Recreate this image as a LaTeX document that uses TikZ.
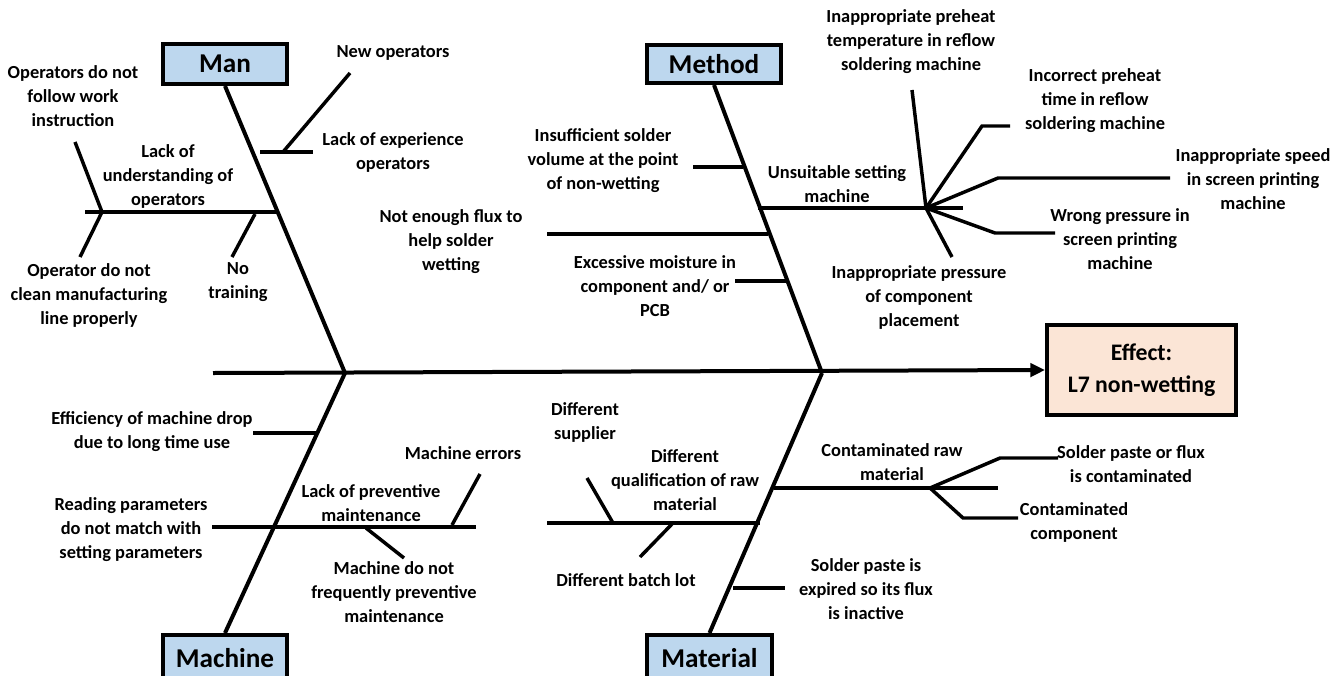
\documentclass[tikz,border=0pt]{standalone}
\usepackage{fontspec}
\setmainfont{Carlito}
\usetikzlibrary{arrows.meta}
\definecolor{catblue}{RGB}{189,215,238}
\definecolor{effpeach}{RGB}{251,229,214}
\tikzset{
  bone/.style={line width=3pt},
  twig/.style={line width=2.6pt},
  cause/.style={font=\bfseries\fontsize{13.8}{18}\selectfont, align=center, inner sep=0pt},
  catbox/.style={draw, line width=3pt, fill=catblue, inner sep=0pt,
    font=\bfseries\fontsize{20.4}{22}\selectfont},
  effbox/.style={draw, line width=3pt, fill=effpeach, inner sep=0pt, align=center,
    font=\bfseries\fontsize{17.8}{24}\selectfont},
}
\begin{document}
\begin{tikzpicture}[x=0.75pt, y=-0.75pt]
\useasboundingbox (0,0) rectangle (1344,675);

% ---------- category boxes and effect ----------
\node[catbox, minimum width=93pt, minimum height=30pt] (man) at (225,64) {Man};
\node[catbox, minimum width=100pt, minimum height=28.5pt] (method) at (714,64) {Method};
\node[catbox, minimum width=93pt, minimum height=34.5pt] (machine) at (225,658) {Machine};
\node[catbox, minimum width=93.75pt, minimum height=34.5pt] (material) at (709.5,658) {Material};
\node[effbox, minimum width=141.75pt, minimum height=67.5pt] (effect) at (1141.5,370) {Effect:\\L7 non-wetting};

% ---------- spine ----------
\coordinate (tail) at (213,373);
\coordinate (jup) at (345,373);
\coordinate (jright) at (822,373);
\draw[bone, -{Triangle[length=11pt, width=10pt]}] (tail) -- (effect.west);

% ---------- main bones ----------
\draw[bone] (man.south) -- (jup);
\draw[bone] (method.south) -- (jright);
\draw[bone] (machine.north) -- (jup);
\draw[bone] (material.north) -- (jright);

% ---------- Man ----------
\coordinate (m1a) at (260,152); \coordinate (m1b) at (313,152);
\coordinate (m1k) at (283,152); \coordinate (m1t) at (350,73);
\draw[twig] (m1a) -- (m1b);
\draw[twig] (m1k) -- (m1t);
\coordinate (m2a) at (85,212); \coordinate (m2b) at (278,212);
\coordinate (m2k) at (102,212);
\coordinate (m2u) at (75,142); \coordinate (m2d) at (80,257);
\coordinate (m3a) at (255,214); \coordinate (m3b) at (232,257);
\draw[twig] (m2a) -- (m2b);
\draw[twig] (m2u) -- (m2k) -- (m2d);
\draw[twig] (m3a) -- (m3b);

\node[cause] (newop) at (393,53) {New operators};
\node[cause] (lackexp) at (393,152) {Lack of experience\\operators};
\node[cause] (lackund) at (168,176) {Lack of\\understanding of\\operators};
\node[cause] (follow) at (73,96) {Operators do not\\follow work\\instruction};
\node[cause] (clean) at (89,295) {Operator do not\\clean manufacturing\\line properly};
\node[cause] (notrain) at (238,282) {No\\training};

% ---------- Method ----------
\coordinate (t1a) at (693,167); \coordinate (t1b) at (743,167);
\coordinate (t2a) at (547,234); \coordinate (t2b) at (768,234);
\coordinate (t3a) at (786,281); \coordinate (t3b) at (735,281);
\coordinate (t4a) at (758,208); \coordinate (t4b) at (963,208);
\coordinate (hub) at (926,208);
\draw[twig] (t1a) -- (t1b);
\draw[twig] (t2a) -- (t2b);
\draw[twig] (t3a) -- (t3b);
\draw[twig] (t4a) -- (t4b);
\coordinate (h1) at (912,90);
\coordinate (h2) at (952,257);
\coordinate (h3k) at (982,126); \coordinate (h3) at (1010,126);
\coordinate (h4k) at (998,178); \coordinate (h4) at (1170,178);
\coordinate (h5k) at (995,233); \coordinate (h5) at (1055,233);
\draw[twig] (hub) -- (h1);
\draw[twig] (hub) -- (h2);
\draw[twig] (hub) -- (h3k) -- (h3);
\draw[twig] (hub) -- (h4k) -- (h4);
\draw[twig] (hub) -- (h5k) -- (h5);

\node[cause] (insuff) at (603,161) {Insufficient solder\\volume at the point\\of non-wetting};
\node[cause] (flux) at (451,242) {Not enough flux to\\help solder\\wetting};
\node[cause] (moist) at (655,286) {Excessive moisture in\\component and/ or\\PCB};
\node[cause] (unsuit) at (837,184) {Unsuitable setting\\machine};
\node[cause] (temp) at (911,42) {Inappropriate preheat\\temperature in reflow\\soldering machine};
\node[cause] (time) at (1095,101) {Incorrect preheat\\time in reflow\\soldering machine};
\node[cause] (speed) at (1253,179) {Inappropriate speed\\in screen printing\\machine};
\node[cause] (wrong) at (1120,239) {Wrong pressure in\\screen printing\\machine};
\node[cause] (place) at (919,297) {Inappropriate pressure\\of component\\placement};

% ---------- Machine ----------
\coordinate (c1a) at (253,433); \coordinate (c1b) at (316,433);
\coordinate (c2a) at (212,527); \coordinate (c2b) at (476,527);
\coordinate (c3a) at (480,474); \coordinate (c3b) at (452,525);
\coordinate (c4a) at (366,528); \coordinate (c4b) at (404,558);
\draw[twig] (c1a) -- (c1b);
\draw[twig] (c2a) -- (c2b);
\draw[twig] (c3a) -- (c3b);
\draw[twig] (c4a) -- (c4b);

\node[cause] (eff) at (152,432) {Efficiency of machine drop\\due to long time use};
\node[cause] (read) at (131,530) {Reading parameters\\do not match with\\setting parameters};
\node[cause] (lackprev) at (371,503) {Lack of preventive\\maintenance};
\node[cause] (merr) at (463,453) {Machine errors};
\node[cause] (mdonot) at (394,592) {Machine do not\\frequently preventive\\maintenance};

% ---------- Material ----------
\coordinate (r1a) at (547,523); \coordinate (r1b) at (760,523);
\coordinate (r2a) at (587,478); \coordinate (r2b) at (613,523);
\coordinate (r3a) at (672,524); \coordinate (r3b) at (640,557);
\coordinate (r4a) at (774,488); \coordinate (r4b) at (998,488);
\coordinate (rhub) at (930,488);
\coordinate (r5k) at (1000,458); \coordinate (r5) at (1058,458);
\coordinate (r6k) at (963,518); \coordinate (r6) at (1018,518);
\coordinate (r7a) at (733,588); \coordinate (r7b) at (785,588);
\draw[twig] (r1a) -- (r1b);
\draw[twig] (r2a) -- (r2b);
\draw[twig] (r3a) -- (r3b);
\draw[twig] (r4a) -- (r4b);
\draw[twig] (rhub) -- (r5k) -- (r5);
\draw[twig] (rhub) -- (r6k) -- (r6);
\draw[twig] (r7a) -- (r7b);

\node[cause] (supp) at (585,422) {Different\\supplier};
\node[cause] (qual) at (685,480) {Different\\qualification of raw\\material};
\node[cause] (batch) at (626,580) {Different batch lot};
\node[cause] (contraw) at (892,462) {Contaminated raw\\material};
\node[cause] (sp) at (1131,464) {Solder paste or flux\\is contaminated};
\node[cause] (comp) at (1074,522) {Contaminated\\component};
\node[cause] (expd) at (866,589) {Solder paste is\\expired so its flux\\is inactive};
\end{tikzpicture}
\end{document}
